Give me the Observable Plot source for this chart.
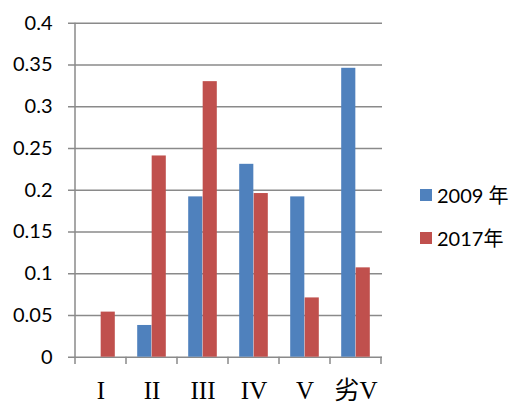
<!DOCTYPE html>
<html><head><meta charset="utf-8">
<script src="https://cdn.jsdelivr.net/npm/d3@7"></script>
<script src="https://cdn.jsdelivr.net/npm/@observablehq/plot@0.6"></script>
<style>
body{margin:0;background:#fff;}
#wrap{position:relative;width:515px;height:404px;overflow:hidden;}
#legend{position:absolute;left:420px;top:173px;font-family:Lato,"Noto Sans CJK SC",sans-serif;font-size:20px;color:#000;}
.item{display:flex;align-items:center;height:43px;white-space:pre;}
.sw{width:12px;height:12px;margin-right:5px;flex:none;}
</style></head><body><div id="wrap"></div>
<script>
const categories = ["I", "II", "III", "IV", "V", "劣V"];
const seriesNames = ["2009 年", "2017年"];
const values2009 = [0, 0.038, 0.192, 0.231, 0.192, 0.346];
const values2017 = [0.054, 0.241, 0.330, 0.196, 0.071, 0.107];
const yTicks = [0, 0.05, 0.1, 0.15, 0.2, 0.25, 0.3, 0.35, 0.4];
const colors = ["#4F81BD", "#C0504D"];

const d2009 = categories.map((c, i) => ({category: c, value: values2009[i]})).filter(d => d.value > 0);
const d2017 = categories.map((c, i) => ({category: c, value: values2017[i]})).filter(d => d.value > 0);

const plot = Plot.plot({
  width: 515,
  height: 404,
  marginLeft: 74,
  marginRight: 133,
  marginTop: 22.7,
  marginBottom: 47.3,
  style: {background: "#fff"},
  x: {domain: categories, padding: 0, label: null},
  y: {domain: [0, 0.4], label: null},
  marks: [
    Plot.ruleY(yTicks, {stroke: "#8a8a8a", strokeWidth: 1.5, insetLeft: -6}),
    Plot.barY(d2009, {x: "category", y: "value", fill: colors[0], insetLeft: 11.2, insetRight: 25.67}),
    Plot.barY(d2017, {x: "category", y: "value", fill: colors[1], insetLeft: 25.67, insetRight: 11.2}),
    Plot.axisY({ticks: yTicks, tickSize: 0, tickPadding: 22, label: null, tickFormat: d => String(+d.toFixed(2)),
      fontSize: 20, fontFamily: "Lato, sans-serif", fill: "#000"}),
    Plot.axisX({tickSize: 0, tickPadding: 24, label: null, fontSize: 25, fontFamily: "'Liberation Serif', 'Noto Sans CJK SC', serif", fill: "#000"})
  ]
});

// axis line and category boundary ticks, from the plot's own scales
const xs = plot.scale("x");
const ys = plot.scale("y");
const svg = d3.select(plot.tagName.toLowerCase() === "svg" ? plot : plot.querySelector("svg"));
const y0 = ys.apply(0);
const yTop = ys.apply(0.4);
const bounds = categories.map(c => xs.apply(c)).concat([xs.apply(categories[categories.length - 1]) + xs.bandwidth]);
const g = svg.append("g").attr("stroke", "#8a8a8a").attr("stroke-width", 1.5);
g.append("line").attr("x1", bounds[0]).attr("x2", bounds[0]).attr("y1", yTop).attr("y2", y0 + 7.3);
bounds.slice(1).forEach(b => g.append("line").attr("x1", b).attr("x2", b).attr("y1", y0).attr("y2", y0 + 7.3));

const wrap = document.getElementById("wrap");
wrap.appendChild(plot);
const legend = document.createElement("div");
legend.id = "legend";
seriesNames.forEach((s, i) => {
  const it = document.createElement("div");
  it.className = "item";
  const sw = document.createElement("span");
  sw.className = "sw";
  sw.style.background = colors[i];
  const t = document.createElement("span");
  t.textContent = s;
  it.appendChild(sw); it.appendChild(t);
  legend.appendChild(it);
});
wrap.appendChild(legend);
</script></body></html>
